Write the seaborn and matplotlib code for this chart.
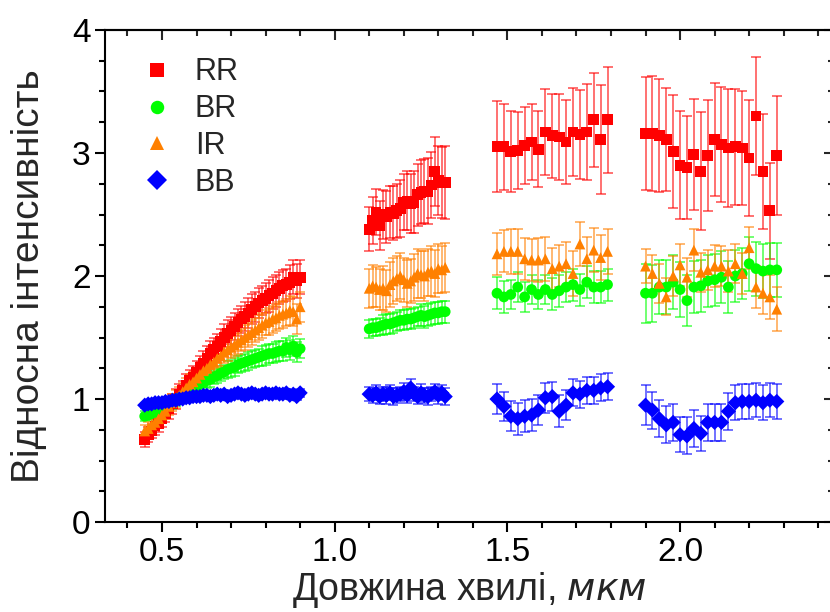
import numpy as np
import pandas as pd
import matplotlib
matplotlib.use("Agg")
import matplotlib.pyplot as plt
import seaborn as sns
from matplotlib.ticker import MultipleLocator

# довжини хвиль (мкм), чотири спектральні ділянки
wl = [
    0.45, 0.46, 0.47, 0.48, 0.49, 0.50, 0.51, 0.52, 0.53, 0.54, 0.55, 0.56,
    0.57, 0.58, 0.59, 0.60, 0.61, 0.62, 0.63, 0.64, 0.65, 0.66, 0.67, 0.68,
    0.69, 0.70, 0.71, 0.72, 0.73, 0.74, 0.75, 0.76, 0.77, 0.78, 0.79, 0.80,
    0.81, 0.82, 0.83, 0.84, 0.85, 0.86, 0.87, 0.88, 0.89, 0.90,
    1.10, 1.11, 1.12, 1.13, 1.14, 1.15, 1.16, 1.17, 1.18, 1.19, 1.20, 1.21,
    1.22, 1.23, 1.24, 1.25, 1.26, 1.27, 1.28, 1.29, 1.30, 1.31, 1.32,
    1.47, 1.49, 1.51, 1.53, 1.55, 1.57, 1.59, 1.61, 1.63, 1.65, 1.67, 1.69,
    1.71, 1.73, 1.75, 1.77, 1.79,
    1.90, 1.92, 1.94, 1.96, 1.98, 2.00, 2.02, 2.04, 2.06, 2.08, 2.10, 2.12,
    2.14, 2.16, 2.18, 2.20, 2.22, 2.24, 2.26, 2.28,
]

rr = [
    0.67, 0.71, 0.74, 0.78, 0.80, 0.84, 0.88, 0.92, 0.96, 1.00, 1.04, 1.07,
    1.11, 1.15, 1.18, 1.22, 1.26, 1.29, 1.33, 1.37, 1.40, 1.43, 1.47, 1.50,
    1.53, 1.56, 1.59, 1.62, 1.65, 1.67, 1.70, 1.73, 1.75, 1.78, 1.80, 1.82,
    1.84, 1.86, 1.88, 1.90, 1.92, 1.93, 1.95, 1.99, 1.96, 1.99,
    2.38, 2.45, 2.52, 2.41, 2.50, 2.48, 2.52, 2.51, 2.53, 2.55, 2.60, 2.61,
    2.59, 2.60, 2.66, 2.68, 2.69, 2.69, 2.74, 2.85, 2.78, 2.76, 2.76,
    3.05, 3.05, 3.01, 3.02, 3.06, 3.09, 3.03, 3.17, 3.14, 3.13, 3.09, 3.17,
    3.15, 3.17, 3.27, 3.11, 3.27,
    3.16, 3.16, 3.14, 3.11, 3.01, 2.90, 2.88, 2.99, 2.85, 2.98, 3.11, 3.07,
    3.04, 3.05, 3.04, 2.96, 3.30, 2.85, 2.53, 2.98,
]
rr_err = [
    0.06, 0.06, 0.06, 0.07, 0.07, 0.07, 0.07, 0.08, 0.08, 0.08, 0.08, 0.08,
    0.09, 0.09, 0.09, 0.09, 0.09, 0.10, 0.10, 0.10, 0.10, 0.10, 0.10, 0.11,
    0.11, 0.11, 0.11, 0.11, 0.11, 0.12, 0.12, 0.12, 0.12, 0.12, 0.12, 0.12,
    0.13, 0.13, 0.13, 0.13, 0.13, 0.13, 0.14, 0.14, 0.14, 0.14,
    0.18, 0.19, 0.19, 0.20, 0.20, 0.21, 0.21, 0.22, 0.22, 0.23, 0.23, 0.24,
    0.24, 0.25, 0.25, 0.26, 0.26, 0.27, 0.27, 0.28, 0.28, 0.29, 0.30,
    0.37, 0.35, 0.33, 0.31, 0.31, 0.31, 0.31, 0.35, 0.34, 0.35, 0.34, 0.36,
    0.36, 0.39, 0.38, 0.44, 0.43,
    0.46, 0.47, 0.46, 0.42, 0.46, 0.44, 0.42, 0.45, 0.48, 0.45, 0.46, 0.47,
    0.48, 0.47, 0.46, 0.47, 0.48, 0.47, 0.39, 0.48,
]

br = [
    0.86, 0.87, 0.88, 0.89, 0.91, 0.92, 0.94, 0.96, 0.97, 0.99, 1.01, 1.03,
    1.05, 1.07, 1.08, 1.10, 1.12, 1.13, 1.15, 1.16, 1.18, 1.19, 1.21, 1.22,
    1.24, 1.25, 1.26, 1.28, 1.29, 1.30, 1.31, 1.32, 1.33, 1.34, 1.35, 1.36,
    1.37, 1.37, 1.38, 1.39, 1.39, 1.42, 1.40, 1.43, 1.38, 1.41,
    1.57, 1.58, 1.58, 1.59, 1.60, 1.61, 1.61, 1.62, 1.63, 1.64, 1.64, 1.65,
    1.65, 1.66, 1.67, 1.68, 1.67, 1.68, 1.69, 1.70, 1.70, 1.71, 1.71,
    1.86, 1.83, 1.85, 1.91, 1.83, 1.89, 1.85, 1.89, 1.85, 1.88, 1.91, 1.93,
    1.89, 1.95, 1.91, 1.91, 1.93,
    1.86, 1.86, 1.91, 1.91, 1.95, 1.89, 1.80, 1.91, 1.92, 1.96, 1.97, 1.99,
    1.91, 2.00, 2.02, 2.10, 2.06, 2.04, 2.05, 2.05,
]
br_err = [
    0.04, 0.04, 0.04, 0.04, 0.04, 0.04, 0.05, 0.05, 0.05, 0.05, 0.05, 0.05,
    0.05, 0.05, 0.06, 0.06, 0.06, 0.06, 0.06, 0.06, 0.06, 0.06, 0.06, 0.06,
    0.07, 0.07, 0.07, 0.07, 0.07, 0.07, 0.07, 0.07, 0.07, 0.07, 0.08, 0.08,
    0.08, 0.08, 0.08, 0.08, 0.08, 0.08, 0.08, 0.08, 0.08, 0.08,
    0.07, 0.07, 0.07, 0.07, 0.08, 0.08, 0.08, 0.08, 0.08, 0.08, 0.08, 0.08,
    0.08, 0.08, 0.08, 0.09, 0.09, 0.09, 0.09, 0.09, 0.09, 0.09, 0.09,
    0.13, 0.13, 0.12, 0.12, 0.12, 0.12, 0.12, 0.12, 0.13, 0.13, 0.12, 0.13,
    0.13, 0.13, 0.13, 0.13, 0.13,
    0.24, 0.23, 0.22, 0.22, 0.22, 0.22, 0.21, 0.21, 0.21, 0.21, 0.21, 0.21,
    0.21, 0.21, 0.21, 0.22, 0.22, 0.22, 0.22, 0.22,
]

ir = [
    0.74, 0.76, 0.79, 0.81, 0.84, 0.87, 0.90, 0.94, 0.97, 1.00, 1.03, 1.06,
    1.09, 1.12, 1.14, 1.17, 1.20, 1.23, 1.25, 1.28, 1.30, 1.33, 1.35, 1.38,
    1.40, 1.42, 1.44, 1.46, 1.48, 1.50, 1.52, 1.54, 1.56, 1.58, 1.60, 1.62,
    1.63, 1.65, 1.66, 1.68, 1.69, 1.70, 1.72, 1.71, 1.65, 1.75,
    1.90, 1.92, 1.91, 1.89, 1.90, 1.88, 1.93, 1.96, 1.98, 2.00, 1.97, 1.94,
    1.96, 1.99, 2.02, 2.01, 2.00, 2.03, 2.04, 2.02, 2.06, 2.05, 2.07,
    2.18, 2.20, 2.20, 2.20, 2.14, 2.13, 2.13, 2.14, 2.06, 2.08, 2.10, 2.02,
    2.26, 2.14, 2.21, 2.15, 2.20,
    2.08, 2.02, 1.94, 1.83, 2.00, 2.09, 1.99, 2.21, 2.03, 2.05, 2.08, 2.08,
    2.04, 2.10, 2.02, 2.23, 1.91, 1.86, 1.83, 1.73,
]
ir_err = [
    0.05, 0.05, 0.05, 0.06, 0.06, 0.06, 0.06, 0.07, 0.07, 0.07, 0.07, 0.07,
    0.08, 0.08, 0.08, 0.08, 0.08, 0.08, 0.08, 0.08, 0.08, 0.08, 0.08, 0.09,
    0.09, 0.09, 0.09, 0.09, 0.09, 0.10, 0.10, 0.10, 0.10, 0.10, 0.10, 0.10,
    0.11, 0.11, 0.11, 0.11, 0.11, 0.11, 0.12, 0.12, 0.12, 0.12,
    0.16, 0.17, 0.16, 0.17, 0.18, 0.17, 0.18, 0.19, 0.18, 0.19, 0.18, 0.19,
    0.18, 0.19, 0.20, 0.19, 0.20, 0.19, 0.20, 0.19, 0.20, 0.19, 0.20,
    0.17, 0.17, 0.18, 0.18, 0.17, 0.17, 0.18, 0.18, 0.17, 0.17, 0.18, 0.18,
    0.18, 0.18, 0.18, 0.18, 0.18,
    0.14, 0.15, 0.16, 0.15, 0.16, 0.17, 0.16, 0.17, 0.16, 0.16, 0.17, 0.16,
    0.17, 0.16, 0.17, 0.17, 0.17, 0.17, 0.18, 0.18,
]

bb = [
    0.95, 0.96, 0.96, 0.97, 0.97, 0.97, 0.98, 0.98, 0.99, 0.99, 1.00, 1.00,
    1.01, 1.01, 1.02, 1.02, 1.02, 1.03, 1.03, 1.02, 1.03, 1.04, 1.03, 1.04,
    1.02, 1.03, 1.04, 1.05, 1.04, 1.03, 1.04, 1.05, 1.04, 1.03, 1.04, 1.05,
    1.04, 1.04, 1.05, 1.04, 1.04, 1.05, 1.03, 1.04, 1.02, 1.05,
    1.04, 1.03, 1.05, 1.02, 1.04, 1.03, 1.05, 1.02, 1.03, 1.04, 1.06, 1.03,
    1.09, 1.04, 1.02, 1.05, 1.03, 1.02, 1.04, 1.06, 1.03, 1.05, 1.02,
    1.00, 0.94, 0.86, 0.84, 0.86, 0.87, 0.91, 1.01, 1.02, 0.90, 0.95, 1.05,
    1.04, 1.07, 1.07, 1.09, 1.10,
    0.95, 0.91, 0.84, 0.79, 0.81, 0.71, 0.70, 0.76, 0.72, 0.81, 0.81, 0.81,
    0.90, 0.97, 0.98, 0.98, 0.99, 0.97, 0.99, 0.98,
]
bb_err = [
    0.02, 0.02, 0.02, 0.02, 0.02, 0.02, 0.02, 0.02, 0.02, 0.02, 0.02, 0.02,
    0.02, 0.02, 0.02, 0.02, 0.02, 0.02, 0.02, 0.02, 0.03, 0.03, 0.03, 0.03,
    0.03, 0.03, 0.03, 0.03, 0.03, 0.03, 0.03, 0.03, 0.03, 0.03, 0.03, 0.03,
    0.03, 0.03, 0.03, 0.03, 0.03, 0.03, 0.03, 0.03, 0.03, 0.03,
    0.06, 0.06, 0.06, 0.06, 0.06, 0.07, 0.06, 0.07, 0.06, 0.06, 0.07, 0.06,
    0.07, 0.06, 0.06, 0.07, 0.06, 0.07, 0.06, 0.06, 0.07, 0.06, 0.07,
    0.12, 0.12, 0.12, 0.13, 0.13, 0.13, 0.12, 0.12, 0.12, 0.13, 0.12, 0.11,
    0.11, 0.11, 0.11, 0.11, 0.11,
    0.16, 0.15, 0.15, 0.15, 0.15, 0.14, 0.15, 0.15, 0.14, 0.15, 0.15, 0.15,
    0.15, 0.14, 0.14, 0.14, 0.14, 0.14, 0.14, 0.14,
]

series = ["RR", "BR", "IR", "BB"]
colors = {"RR": "#ff0000", "BR": "#00ff00", "IR": "#ff8000", "BB": "#0000ff"}
markers = {"RR": "s", "BR": "o", "IR": "^", "BB": "D"}

frames = []
for name, vals, errs in [("RR", rr, rr_err), ("BR", br, br_err),
                         ("IR", ir, ir_err), ("BB", bb, bb_err)]:
    frames.append(pd.DataFrame({"wl": wl, "value": vals, "err": errs, "series": name}))
df = pd.concat(frames, ignore_index=True)

sns.set_theme(style="ticks")
plt.rcParams["font.family"] = ["Liberation Sans Narrow", "Liberation Sans", "DejaVu Sans"]

fig = plt.figure(figsize=(8.3, 6.12), dpi=100)
ax = fig.add_axes([0.1265, 0.147, 0.878, 0.804])

for i, name in enumerate(series):
    sub = df[df.series == name]
    ax.errorbar(sub.wl, sub.value, yerr=sub.err, fmt="none", ecolor=colors[name],
                alpha=0.6, elinewidth=1.3, capsize=3.5, capthick=1.3, zorder=2 + i)

sns.scatterplot(data=df, x="wl", y="value", hue="series", style="series",
                hue_order=series, style_order=series, palette=colors, markers=markers,
                s=60, linewidth=0, edgecolor="none", ax=ax, zorder=10)

ax.set_xlim(0.335, 2.445)
ax.set_ylim(0, 4)
ax.xaxis.set_major_locator(MultipleLocator(0.5))
ax.xaxis.set_minor_locator(MultipleLocator(0.1))
ax.yaxis.set_major_locator(MultipleLocator(1))
ax.yaxis.set_minor_locator(MultipleLocator(0.25))
ax.set_xticks([0.5, 1.0, 1.5, 2.0])
ax.set_xticklabels(["0.5", "1.0", "1.5", "2.0"])
ax.set_yticks([0, 1, 2, 3, 4])
ax.set_yticklabels(["0", "1", "2", "3", "4"])

ax.tick_params(axis="both", which="major", direction="out", length=7, width=1.5,
               labelsize=24, color="black", labelcolor="black")
ax.tick_params(axis="both", which="minor", direction="out", length=4, width=1.5,
               color="black")
for sp in ax.spines.values():
    sp.set_visible(True)
    sp.set_linewidth(1.5)
    sp.set_color("black")

# дзеркальні риски зверху і справа, всередину
top = ax.secondary_xaxis("top")
top.xaxis.set_major_locator(MultipleLocator(0.5))
top.xaxis.set_minor_locator(MultipleLocator(0.1))
top.tick_params(which="major", direction="in", length=7, width=1.5, labeltop=False)
top.tick_params(which="minor", direction="in", length=4, width=1.5)
top.spines["top"].set_linewidth(1.5)
right = ax.secondary_yaxis("right")
right.yaxis.set_major_locator(MultipleLocator(1))
right.yaxis.set_minor_locator(MultipleLocator(0.25))
right.tick_params(which="major", direction="in", length=7, width=1.5, labelright=False)
right.tick_params(which="minor", direction="in", length=4, width=1.5)

ax.set_xlabel("Довжина хвилі, $\\it{мкм}$", fontsize=27, labelpad=2)
ax.set_ylabel("Відносна інтенсивність", fontsize=28, labelpad=18)

handles, labels = ax.get_legend_handles_labels()
ax.legend(handles, labels, loc="upper left", bbox_to_anchor=(0.012, 1.0),
          frameon=False, fontsize=22, handlelength=1.0, handletextpad=0.75,
          labelspacing=0.22, borderpad=0.4, markerscale=1.25)

fig.savefig("out.png", dpi=100)
